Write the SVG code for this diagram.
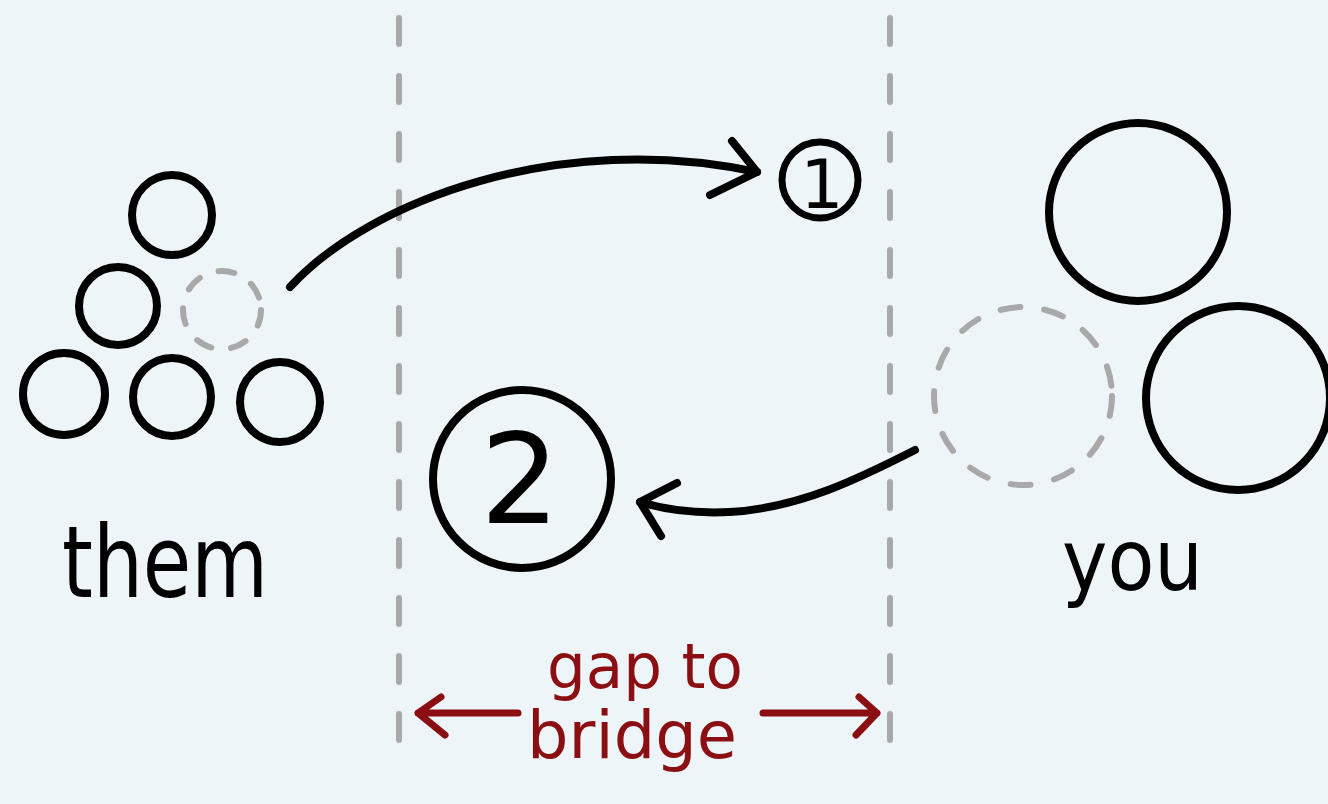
<svg xmlns="http://www.w3.org/2000/svg" width="1328" height="804" viewBox="0 0 1328 804">
  <style>
    .ink { fill: none; stroke: #000; stroke-width: 8; stroke-linecap: round; stroke-linejoin: round; }
    .ghost { fill: none; stroke: #a9a9a9; stroke-width: 6; stroke-linecap: round; stroke-dasharray: 16 20; }
    .divider { fill: none; stroke: #a9a9a9; stroke-width: 6; stroke-linecap: round; stroke-dasharray: 26 32; }
    .red { fill: none; stroke: #8b0f12; stroke-width: 7; stroke-linecap: round; stroke-linejoin: round; }
    .lbl { font-family: "DejaVu Sans", "Liberation Sans", sans-serif; fill: #000; }
    .redlbl { font-family: "DejaVu Sans", "Liberation Sans", sans-serif; fill: #8b0f12; }
  </style>

  <rect width="1328" height="804" fill="#eef5f9"/>

  <!-- dashed dividers marking the gap -->
  <g id="dividers">
    <line class="divider" x1="399" y1="18" x2="399" y2="760"/>
    <line class="divider" x1="890" y1="18" x2="890" y2="750"/>
  </g>

  <!-- "them" cluster -->
  <g id="them">
    <circle class="ink" cx="172" cy="215" r="40"/>
    <circle class="ink" cx="118" cy="306" r="39"/>
    <circle class="ghost" cx="222" cy="310" r="39"/>
    <circle class="ink" cx="64" cy="394" r="41"/>
    <circle class="ink" cx="172" cy="397" r="39"/>
    <circle class="ink" cx="280" cy="402" r="40"/>
    <text class="lbl" x="62" y="597" font-size="100" textLength="206" lengthAdjust="spacingAndGlyphs">them</text>
  </g>

  <!-- "you" cluster -->
  <g id="you">
    <circle class="ink" cx="1138" cy="212" r="89"/>
    <circle class="ink" cx="1238" cy="398" r="92"/>
    <circle class="ghost" cx="1023" cy="396" r="89" style="stroke-dasharray: 20 24"/>
    <text class="lbl" x="1062" y="590" font-size="86" textLength="141" lengthAdjust="spacingAndGlyphs">you</text>
  </g>

  <!-- step 1 -->
  <g id="step1">
    <circle class="ink" cx="820" cy="180" r="38" style="stroke-width:7"/>
    <text class="lbl" x="822" y="208" font-size="68" text-anchor="middle">1</text>
  </g>

  <!-- step 2 -->
  <g id="step2">
    <circle class="ink" cx="522" cy="479" r="89"/>
    <text class="lbl" x="520" y="523" font-size="125" text-anchor="middle">2</text>
  </g>

  <!-- gap label -->
  <g id="gap">
    <text class="redlbl" x="645" y="688" font-size="62" text-anchor="middle" textLength="196" lengthAdjust="spacingAndGlyphs">gap to</text>
    <text class="redlbl" x="632" y="758" font-size="66" text-anchor="middle" textLength="210" lengthAdjust="spacingAndGlyphs">bridge</text>
  </g>

  <!-- connectors -->
  <g id="connectors">
    <path class="ink" d="M290,287 C370,200 560,130 757,172"/>
    <path class="ink" d="M732,141 L757,172 L710,195"/>
    <path class="ink" d="M915,450 C860,478 800,508 730,512 C690,514 660,508 640,502"/>
    <path class="ink" d="M677,483 L640,502 L661,536"/>
    <path class="red" d="M518,713 L418,713 M441,697 L418,713 L445,735"/>
    <path class="red" d="M763,713 L877,713 M859,697 L877,713 L856,735"/>
  </g>
</svg>
